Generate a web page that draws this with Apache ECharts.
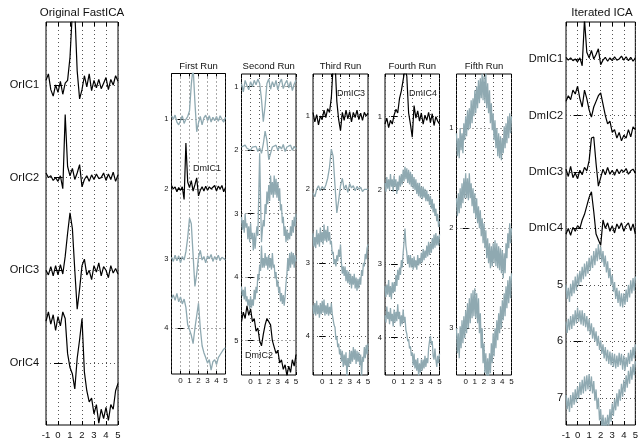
<!DOCTYPE html>
<html><head><meta charset="utf-8">
<script src="https://cdn.jsdelivr.net/npm/echarts@6/dist/echarts.min.js"></script>
<style>html,body{margin:0;padding:0;background:#fff}#c{width:641px;height:442px}</style>
</head><body><div id="c"></div>
<script>
// sample times (s)
const xs = [-1,-0.8,-0.6,-0.4,-0.2,0,0.2,0.4,0.6,0.8,1,1.2,1.4,1.6,1.8,2,2.2,2.4,2.6,2.8,3,3.2,3.4,3.6,3.8,4,4.2,4.4,4.6,4.8,5];
const xsFine = [-1,-0.9,-0.8,-0.7,-0.6,-0.5,-0.4,-0.3,-0.2,-0.1,0,0.1,0.2,0.3,0.4,0.5,0.6,0.7,0.8,0.9,1,1.1,1.2,1.3,1.4,1.5,1.6,1.7,1.8,1.9,2,2.1,2.2,2.3,2.4,2.5,2.6,2.7,2.8,2.9,3,3.1,3.2,3.3,3.4,3.5,3.6,3.7,3.8,3.9,4,4.1,4.2,4.3,4.4,4.5,4.6,4.7,4.8,4.9,5];

// Original FastICA
const orIC1 = [0.05,0.12,-0.05,-0.12,0.0,-0.08,0.04,-0.1,0.02,0.05,0.3,0.8,0.8,0.15,-0.15,-0.05,0.1,-0.02,0.12,-0.06,0.05,-0.03,0.06,-0.04,0.02,0.08,-0.05,0.06,0.0,0.1,0.04];
const orIC2 = [0.05,0.0,0.02,-0.03,0.0,-0.04,0.02,-0.12,0.68,0.12,0.02,0.1,-0.02,0.05,0.14,-0.1,-0.02,0.02,-0.04,0.03,-0.02,0.04,-0.01,0.0,0.05,-0.03,0.04,-0.02,0.06,-0.04,0.03];
const orIC3 = [0.0,-0.05,0.04,-0.06,0.05,-0.05,0.06,-0.04,0.15,0.4,0.62,0.45,0.0,-0.42,-0.2,0.05,0.12,-0.05,0.0,-0.1,0.05,-0.02,0.08,-0.06,0.04,0.0,-0.08,0.05,-0.03,0.02,-0.04];
const orIC4 = [0.45,0.55,0.42,0.52,0.35,0.5,0.4,0.55,0.48,0.1,-0.05,-0.12,-0.28,0.05,0.25,0.48,-0.1,-0.3,-0.42,-0.38,-0.55,-0.45,-0.65,-0.5,-0.6,-0.48,-0.62,-0.45,-0.5,-0.3,-0.22];

// First Run
const fr1 = [0.05,0.0,0.06,-0.04,-0.08,-0.02,0.05,-0.06,0.0,0.04,0.12,0.5,0.75,0.25,-0.18,-0.05,0.04,-0.08,0.02,0.06,-0.02,0.05,-0.04,0.03,-0.02,0.04,-0.03,0.05,0.0,-0.04,0.03];
const fr2 = [0.05,0.0,0.03,-0.04,0.02,-0.02,0.03,-0.15,0.66,0.1,0.02,0.12,-0.03,0.06,0.16,-0.1,-0.02,0.03,-0.03,0.04,-0.02,0.03,0.0,-0.02,0.05,-0.03,0.04,0.0,0.05,-0.04,0.02];
const fr3 = [0.02,-0.04,0.05,-0.03,0.04,-0.06,0.03,-0.02,0.1,0.3,0.58,0.5,0.05,-0.4,-0.22,0.02,0.12,-0.02,0.03,-0.06,0.04,0.0,0.06,-0.04,0.03,-0.02,0.05,-0.03,0.02,0.04,-0.02];
const fr4 = [0.42,0.48,0.4,0.5,0.38,0.45,0.35,0.42,0.3,0.05,-0.02,-0.1,-0.22,0.0,0.18,0.36,0.0,-0.25,-0.35,-0.42,-0.5,-0.45,-0.6,-0.48,-0.45,-0.52,-0.42,-0.38,-0.4,-0.3,-0.28];

// Second Run
const sr1 = [0.05,-0.08,0.1,0.02,-0.05,0.08,0.0,0.1,0.03,0.12,0.05,-0.2,-0.55,-0.3,0.05,0.12,-0.04,0.08,0.0,0.1,-0.05,0.06,0.12,-0.03,0.05,0.1,-0.02,0.08,-0.06,0.04,0.1];
const sr2 = [0.05,0.02,0.08,0.03,0.06,0.0,0.05,0.02,0.06,-0.02,0.04,-0.05,0.1,0.3,0.15,-0.15,-0.05,0.05,0.02,0.08,0.0,0.06,0.02,0.09,-0.02,0.05,0.03,0.08,0.0,0.06,0.02];
const sr3 = [-0.05,-0.25,-0.1,-0.3,0.0,-0.22,-0.15,-0.4,-0.2,-0.45,-0.15,-0.4,-0.3,-0.58,-0.3,-0.55,-0.35,-0.2,-0.35,0.3,0.95,0.2,-0.45,-0.25,-0.1,-0.2,0.15,0.0,0.35,0.15,0.45,0.2,0.6,0.3,0.5,0.25,0.6,0.3,0.55,0.25,0.5,0.2,0.4,0.05,0.15,-0.15,-0.05,-0.35,-0.2,-0.45,-0.25,-0.42,-0.3,-0.4,-0.2,-0.35,-0.1,-0.3,-0.05,-0.2,0.0];
const sr4 = [-0.15,-0.3,-0.2,-0.35,-0.15,-0.38,-0.3,-0.45,-0.35,-0.5,-0.3,-0.48,-0.35,-0.45,-0.2,-0.35,-0.15,-0.25,0.05,-0.05,0.2,0.1,0.5,0.15,0.3,0.15,0.38,0.18,0.32,0.12,0.35,0.15,0.3,0.12,0.38,0.15,0.2,-0.02,0.08,-0.15,-0.05,-0.25,-0.15,-0.38,-0.25,-0.42,-0.28,-0.45,-0.3,-0.1,0.05,0.3,0.1,0.38,0.15,0.4,0.2,0.38,0.15,0.35,0.25];
const sr5 = [0.3,0.45,0.35,0.55,0.4,0.5,0.3,0.35,0.15,0.2,0.0,-0.08,0.1,0.25,0.35,0.38,0.25,0.0,-0.1,-0.2,-0.15,-0.35,-0.3,-0.45,-0.38,-0.55,-0.4,-0.5,-0.3,-0.4,-0.22];

// Third Run
const tr1 = [0.05,-0.08,0.02,-0.12,0.0,-0.05,0.08,-0.02,0.1,0.05,0.25,0.7,0.75,0.2,-0.05,-0.2,0.05,-0.06,0.08,-0.04,0.06,-0.08,0.05,-0.02,0.08,-0.05,0.04,-0.06,0.05,0.0,0.04];
const tr2 = [-0.05,-0.1,0.0,0.05,-0.02,0.04,0.0,0.06,0.15,0.3,0.55,0.45,0.05,-0.32,-0.15,0.05,0.15,0.0,0.06,-0.04,0.08,0.02,0.05,-0.02,0.04,0.0,0.03,-0.03,0.0,-0.02,0.0];
const tr3 = [0.4,0.22,0.35,0.2,0.45,0.25,0.4,0.22,0.48,0.28,0.42,0.25,0.52,0.3,0.45,0.28,0.5,0.3,0.42,0.25,0.3,0.12,0.15,-0.02,0.05,-0.05,0.1,0.02,0.18,0.08,0.25,0.0,-0.15,-0.05,-0.18,-0.05,-0.25,-0.1,-0.28,-0.12,-0.3,-0.15,-0.35,-0.18,-0.3,-0.15,-0.35,-0.2,-0.38,-0.22,-0.35,-0.2,-0.3,-0.1,-0.18,0.0,-0.05,0.12,0.05,0.2,0.25];
const tr4 = [0.42,0.3,0.45,0.28,0.48,0.3,0.42,0.25,0.45,0.3,0.48,0.32,0.5,0.28,0.42,0.3,0.45,0.28,0.4,0.3,0.45,0.3,0.32,0.15,0.12,-0.05,0.0,-0.15,-0.1,-0.25,-0.18,-0.35,-0.2,-0.42,-0.25,-0.4,-0.22,-0.55,-0.3,-0.42,-0.2,-0.38,-0.2,-0.35,-0.15,-0.32,-0.18,-0.38,-0.2,-0.35,-0.22,-0.4,-0.25,-0.55,-0.28,-0.35,-0.15,-0.3,-0.12,-0.25,-0.1];

// Fourth Run
const for1 = [-0.1,-0.02,-0.15,-0.05,-0.1,0.02,0.1,0.05,0.25,0.35,0.5,0.65,0.55,0.05,-0.1,-0.28,0.15,-0.02,0.08,-0.06,0.05,-0.1,0.02,-0.05,0.06,-0.08,0.04,-0.12,0.0,-0.06,-0.1];
const for2 = [0.1,-0.02,0.18,0.02,0.15,0.0,0.22,0.05,0.15,-0.02,0.2,0.05,0.15,-0.05,0.12,0.0,0.2,0.05,0.22,0.08,0.28,0.12,0.32,0.15,0.3,0.1,0.28,0.08,0.25,0.05,0.22,0.02,0.18,0.0,0.15,-0.05,0.1,-0.08,0.1,-0.1,0.05,-0.12,0.05,-0.1,0.02,-0.15,0.0,-0.15,-0.05,-0.2,-0.08,-0.25,-0.12,-0.3,-0.18,-0.35,-0.25,-0.42,-0.32,-0.5,-0.42];
const for3 = [-0.3,-0.45,-0.28,-0.42,-0.22,-0.45,-0.3,-0.48,-0.25,-0.4,-0.25,-0.38,-0.15,-0.3,-0.08,-0.22,-0.05,-0.15,0.05,-0.05,0.15,0.3,0.48,0.25,0.15,0.0,0.12,-0.05,0.12,-0.05,0.08,-0.08,0.1,-0.05,0.05,-0.08,0.12,-0.02,0.08,0.0,0.15,0.02,0.2,0.05,0.18,0.08,0.25,0.1,0.3,0.12,0.28,0.15,0.35,0.2,0.4,0.22,0.42,0.25,0.38,0.25,0.4];
const for4 = [0.3,0.2,0.42,0.25,0.35,0.18,0.4,0.22,0.32,0.15,0.38,0.2,0.35,0.22,0.45,0.25,0.35,0.15,0.3,0.18,0.38,0.2,0.28,0.1,0.05,-0.05,-0.02,-0.15,-0.12,-0.25,-0.2,-0.38,-0.22,-0.42,-0.3,-0.45,-0.28,-0.52,-0.35,-0.48,-0.3,-0.45,-0.3,-0.42,-0.25,-0.4,-0.28,-0.35,-0.15,-0.05,0.02,-0.1,-0.05,-0.25,-0.3,-0.15,-0.3,-0.4,-0.25,-0.35,-0.22];

// Fifth Run
const fi1 = [-0.05,-0.28,-0.1,-0.3,0.0,-0.22,-0.05,-0.25,0.05,-0.12,0.12,-0.08,0.18,-0.02,0.2,0.0,0.28,0.05,0.3,0.12,0.38,0.15,0.42,0.2,0.48,0.25,0.5,0.3,0.55,0.28,0.52,0.25,0.55,0.2,0.45,0.15,0.38,0.05,0.25,-0.02,0.15,-0.12,0.08,-0.2,0.0,-0.28,-0.05,-0.3,-0.08,-0.32,-0.1,-0.25,0.02,-0.2,0.05,-0.15,0.12,-0.1,0.15,-0.05,0.12];
const fi2 = [0.3,0.12,0.35,0.15,0.4,0.2,0.45,0.25,0.5,0.3,0.55,0.3,0.5,0.28,0.55,0.3,0.45,0.22,0.4,0.15,0.35,0.1,0.3,0.05,0.22,0.0,0.18,-0.08,0.1,-0.15,0.05,-0.2,-0.02,-0.3,-0.1,-0.35,-0.15,-0.4,-0.18,-0.38,-0.15,-0.35,-0.12,-0.38,-0.15,-0.4,-0.18,-0.42,-0.2,-0.45,-0.22,-0.5,-0.25,-0.45,-0.15,-0.3,-0.05,-0.2,0.05,-0.15,0.0];
const fi3 = [0.0,-0.25,-0.05,-0.3,0.02,-0.2,0.08,-0.15,0.12,-0.1,0.18,-0.05,0.25,0.0,0.3,0.05,0.35,0.1,0.38,0.12,0.4,0.1,0.35,0.05,0.3,-0.05,0.15,-0.2,0.0,-0.35,-0.15,-0.45,-0.25,-0.5,-0.3,-0.5,-0.25,-0.45,-0.15,-0.35,-0.05,-0.28,0.0,-0.2,0.08,-0.12,0.15,-0.05,0.22,0.0,0.28,0.08,0.35,0.12,0.42,0.2,0.48,0.25,0.52,0.3,0.55];

// Iterated ICA
const it1 = [0.03,-0.02,0.02,-0.03,0.0,-0.05,0.02,-0.12,0.7,0.12,0.02,0.15,0.0,0.08,0.18,-0.1,-0.02,0.03,-0.04,0.02,-0.03,0.04,-0.02,0.0,0.05,-0.02,0.04,-0.03,0.03,-0.04,0.02];
const it2 = [0.25,0.35,0.28,0.45,0.38,0.52,0.3,0.15,0.45,0.3,0.1,-0.03,0.15,0.25,0.35,0.4,0.2,0.0,-0.15,-0.1,-0.3,-0.25,-0.4,-0.3,-0.45,-0.35,-0.4,-0.25,-0.38,-0.2,-0.25];
const it3 = [0.05,-0.08,0.1,-0.1,-0.02,-0.12,0.03,-0.05,0.08,0.02,0.2,0.6,0.62,0.15,-0.25,-0.1,0.05,-0.05,0.08,-0.04,0.03,-0.06,0.05,-0.03,0.04,0.0,0.06,-0.04,0.02,0.05,-0.02];
const it4 = [-0.1,0.0,-0.12,0.02,-0.05,0.05,0.0,0.15,0.25,0.4,0.55,0.65,0.3,-0.1,-0.2,-0.3,0.15,0.0,0.1,-0.05,0.05,-0.08,0.08,0.0,0.1,-0.05,0.05,0.1,-0.04,0.08,-0.1];
const it5 = [0.0,-0.25,-0.05,-0.3,0.02,-0.2,0.08,-0.15,0.15,-0.1,0.2,-0.02,0.25,0.05,0.32,0.1,0.38,0.15,0.42,0.2,0.48,0.25,0.52,0.3,0.6,0.35,0.65,0.42,0.72,0.45,0.68,0.4,0.6,0.32,0.52,0.22,0.42,0.12,0.3,0.0,0.18,-0.12,0.05,-0.25,-0.05,-0.32,-0.1,-0.38,-0.15,-0.4,-0.15,-0.35,-0.08,-0.3,0.0,-0.22,0.08,-0.15,0.12,-0.1,0.15];
const it6 = [0.35,0.15,0.4,0.2,0.45,0.22,0.48,0.28,0.55,0.32,0.6,0.35,0.55,0.3,0.55,0.28,0.5,0.25,0.45,0.18,0.4,0.12,0.32,0.05,0.25,0.0,0.18,-0.08,0.1,-0.15,0.02,-0.22,-0.05,-0.3,-0.1,-0.35,-0.15,-0.4,-0.18,-0.42,-0.2,-0.45,-0.22,-0.48,-0.25,-0.45,-0.2,-0.42,-0.22,-0.5,-0.25,-0.52,-0.28,-0.45,-0.2,-0.4,-0.15,-0.35,-0.1,-0.3,-0.05];
const it7 = [0.05,-0.2,0.0,-0.25,0.05,-0.18,0.1,-0.12,0.15,-0.08,0.2,-0.02,0.28,0.05,0.32,0.08,0.38,0.12,0.4,0.15,0.42,0.12,0.38,0.08,0.3,-0.05,0.15,-0.2,0.0,-0.4,-0.2,-0.55,-0.3,-0.6,-0.35,-0.55,-0.3,-0.5,-0.2,-0.42,-0.1,-0.32,-0.02,-0.22,0.08,-0.15,0.15,-0.05,0.25,0.02,0.32,0.1,0.4,0.18,0.48,0.25,0.55,0.32,0.6,0.4,0.65];

const orNames = ['OrIC1','OrIC2','OrIC3','OrIC4'];
const itNames = ['DmIC1','DmIC2','DmIC3','DmIC4','5','6','7'];
const bigXTicks = [-1,0,1,2,3,4,5];
const smallXTicks = [0,1,2,3,4,5];

const K = '#000', G = '#8fa9b1';
const FF = 'Liberation Sans, Arial, Helvetica, sans-serif';

const panels = [
  {title:'Original FastICA', box:[46,22,72,403], yr:[0.32,4.67], names:orNames, big:true,
   traces:[[orIC1,K],[orIC2,K],[orIC3,K],[orIC4,K]]},
  {title:'First Run', box:[171.5,73.5,54,300.5], yr:[0.343,4.656], names:['1','2','3','4'],
   traces:[[fr1,G],[fr2,K],[fr3,G],[fr4,G]]},
  {title:'Second Run', box:[241.5,74,54.5,301], yr:[0.8,5.54], names:['1','2','3','4','5'],
   traces:[[sr1,G],[sr2,G],[sr3,G],[sr4,G],[sr5,K]]},
  {title:'Third Run', box:[313,74,55,301], yr:[0.427,4.53], names:['1','2','3','4'],
   traces:[[tr1,K],[tr2,G],[tr3,G],[tr4,G]]},
  {title:'Fourth Run', box:[385,74,54.5,301], yr:[0.42,4.51], names:['1','2','3','4'],
   traces:[[for1,K],[for2,G],[for3,G],[for4,G]]},
  {title:'Fifth Run', box:[456.5,74,55,301], yr:[0.457,3.467], names:['1','2','3'],
   traces:[[fi1,G],[fi2,G],[fi3,G]]},
  {title:'Iterated ICA', box:[566,22,72,403], yr:[0.345,7.48], names:itNames, big:true,
   traces:[[it1,K],[it2,K],[it3,K],[it4,K],[it5,G],[it6,G],[it7,G]]}
];

const annotations = [
  {text:'DmIC1', x:193, y:169},
  {text:'DmIC2', x:245, y:356},
  {text:'DmIC3', x:337, y:94},
  {text:'DmIC4', x:409, y:94}
];

const grids = [], xAxes = [], yAxes = [], series = [], graphics = [];
const dotted = {color:'#555', type:[1,3], width:1};

panels.forEach((p, gi) => {
  const tl = p.big ? 4 : 3;
  grids.push({left:p.box[0], top:p.box[1], width:p.box[2], height:p.box[3],
    show:true, borderColor:'#000', borderWidth:1, backgroundColor:'#fff', containLabel:false});
  xAxes.push({gridIndex:gi, type:'value', min:-1, max:5, interval:1, position:'bottom',
    axisLine:{show:false},
    axisTick:{show:true, inside:true, length:tl, lineStyle:{color:'#000'}},
    axisLabel:{customValues: p.big ? bigXTicks : smallXTicks, fontSize: p.big ? 9.5 : 8,
      color:'#111', margin: p.big ? 5 : 3, fontFamily:FF},
    splitLine:{show:true, lineStyle:dotted}});
  xAxes.push({gridIndex:gi, type:'value', min:-1, max:5, interval:1, position:'top',
    axisLine:{show:false},
    axisTick:{show:true, inside:true, length:tl, lineStyle:{color:'#000'}},
    axisLabel:{show:false}, splitLine:{show:false}});
  const lv = p.names.map((_, i) => i + 1);
  yAxes.push({gridIndex:gi, type:'value', inverse:true, min:p.yr[0], max:p.yr[1], position:'left',
    axisLine:{show:false},
    axisTick:{show:true, inside:true, length:tl, customValues:lv, lineStyle:{color:'#000'}},
    axisLabel:{customValues:lv, formatter:(v) => p.names[Math.round(v) - 1],
      fontSize: p.big ? 11 : 7.5, color:'#111', margin: p.big ? (gi === 0 ? 7 : 3) : 3, fontFamily:FF},
    splitLine:{show:true, lineStyle:dotted}});
  yAxes.push({gridIndex:gi, type:'value', inverse:true, min:p.yr[0], max:p.yr[1], position:'right',
    axisLine:{show:false},
    axisTick:{show:true, inside:true, length:tl, customValues:lv, lineStyle:{color:'#000'}},
    axisLabel:{show:false}, splitLine:{show:false}});
  p.traces.forEach((t, k) => {
    const vals = t[0], level = k + 1;
    const tx = vals.length === xsFine.length ? xsFine : xs;
    series.push({type:'line', xAxisIndex:gi*2, yAxisIndex:gi*2, silent:true, animation:false,
      symbol:'none', showSymbol:false, clip:true, z:3,
      lineStyle:{color:t[1], width: t[1] === K ? 1.2 : 1.3},
      data: tx.map((x, i) => [x, level - vals[i]])});
  });
  const cx = p.box[0] + p.box[2] / 2;
  graphics.push({type:'text', x:cx, y: p.big ? 13 : 66, z:100,
    style:{text:p.title, fill:'#111', font:(p.big ? '11.5px ' : '9.5px ') + FF, align:'center', verticalAlign:'middle'}});
});

annotations.forEach(a => graphics.push({type:'text', x:a.x, y:a.y, z:100,
  style:{text:a.text, fill:'#222', font:'9px ' + FF, align:'left', verticalAlign:'middle'}}));

const chart = echarts.init(document.getElementById('c'), null, {renderer:'canvas'});
chart.setOption({animation:false, grid:grids, xAxis:xAxes, yAxis:yAxes, series:series, graphic:graphics});
</script></body></html>
